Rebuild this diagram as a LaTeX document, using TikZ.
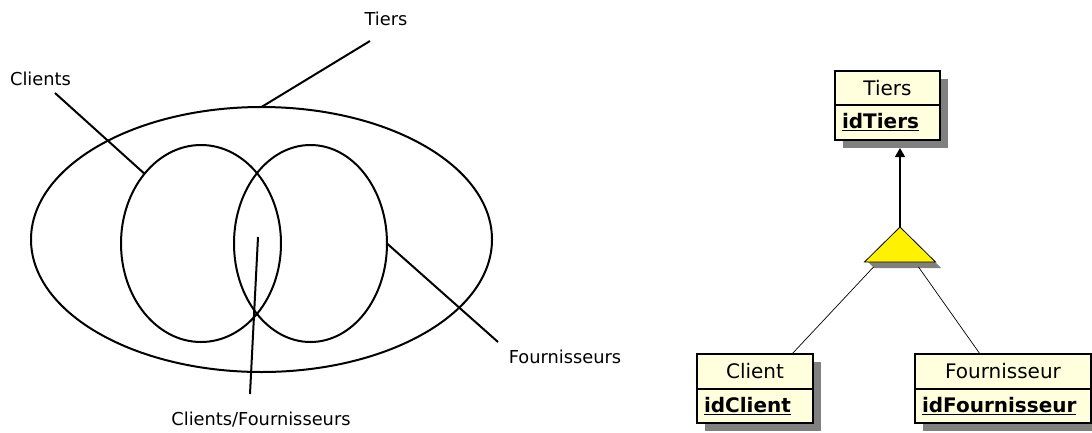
\documentclass[tikz,border=0pt]{standalone}
\usepackage{fontspec}
\setmainfont{DejaVu Sans}
\usetikzlibrary{shapes.geometric,shadows,arrows.meta}
\definecolor{classfill}{RGB}{255,255,221}
\definecolor{shadowgray}{RGB}{128,128,128}
\begin{document}
\begin{tikzpicture}[x=1pt,y=-1pt,
  set/.style={ellipse, draw, line width=2pt, inner sep=0pt, outer sep=0pt},
  leader/.style={line width=2pt},
  setlabel/.style={font=\fontsize{17.8}{20}\selectfont, inner sep=0pt, anchor=base},
  boxshadow/.style={drop shadow={shadow xshift=8pt, shadow yshift=-8pt, fill=shadowgray, opacity=1}},
  classhead/.style={draw, line width=1.2pt, fill=classfill, inner sep=0pt, outer sep=0pt,
    font=\fontsize{20}{22}\selectfont, boxshadow},
  classbody/.style={draw, line width=1.2pt, fill=classfill, inner ysep=0pt, inner xsep=7pt,
    outer sep=0pt, align=left, anchor=north, font=\bfseries\fontsize{20}{22}\selectfont, boxshadow},
  generalization/.style={isosceles triangle, isosceles triangle stretches, shape border rotate=90,
    minimum width=71pt, minimum height=35pt, inner sep=0pt, outer sep=0pt,
    draw, line width=0.8pt, fill=yellow},
  link/.style={line width=0.7pt},
]
\useasboundingbox (0,0) rectangle (1092,432);

% ---- sets ----
\node[set, minimum width=461pt, minimum height=265pt] (tiers) at (261.5,239.5) {};
\node[set, minimum width=160pt, minimum height=197pt] (cl) at (201,243.5) {};
\node[set, minimum width=153pt, minimum height=197pt] (fo) at (310.5,243.5) {};

\node[setlabel] (lblTiers) at (386,25) {Tiers};
\node[setlabel] (lblClients) at (40.5,85) {Clients};
\node[setlabel] (lblFourn) at (565,363) {Fournisseurs};
\node[setlabel] (lblBoth) at (261,425) {Clients/Fournisseurs};

\coordinate (endTiers) at (370,41);
\coordinate (endClients) at (55,93);
\coordinate (endFourn) at (498,342);
\coordinate (endBoth) at (250,394);
\coordinate (inBoth) at (258,237);

\draw[leader] (tiers.north) -- (endTiers);
\draw[leader] (cl.129) -- (endClients);
\draw[leader] (fo.east) -- (endFourn);
\draw[leader] (inBoth) -- (endBoth);

% ---- classes ----
\node[classhead, minimum width=105pt, minimum height=34pt] (tiersH) at (887.5,88) {Tiers};
\node[classbody, text width=91pt, minimum height=35pt] (tiersB) at (tiersH.south) {\underline{idTiers}};

\node[classhead, minimum width=116pt, minimum height=35pt] (clientH) at (755,371.5) {Client};
\node[classbody, text width=102pt, minimum height=34pt] (clientB) at (clientH.south) {\underline{idClient}};

\node[classhead, minimum width=176pt, minimum height=35pt] (fournH) at (1003,371.5) {Fournisseur};
\node[classbody, text width=162pt, minimum height=34pt] (fournB) at (fournH.south) {\underline{idFournisseur}};

% ---- inheritance ----
\fill[shadowgray] (868,262) -- (935,262) -- (941,268) -- (874,268) -- cycle;
\node[generalization, anchor=apex] (gen) at (900,227) {};

\draw[line width=1.5pt, -{Triangle[width=10pt,length=9pt]}] (gen.apex) -- ([xshift=12.5pt,yshift=-8pt]tiersB.south);
\draw[link] ([xshift=9pt,yshift=-5pt]gen.left corner) -- ([xshift=37pt]clientH.north);
\draw[link] ([xshift=-17pt,yshift=-5pt]gen.right corner) -- ([xshift=-23pt]fournH.north);
\end{tikzpicture}
\end{document}
